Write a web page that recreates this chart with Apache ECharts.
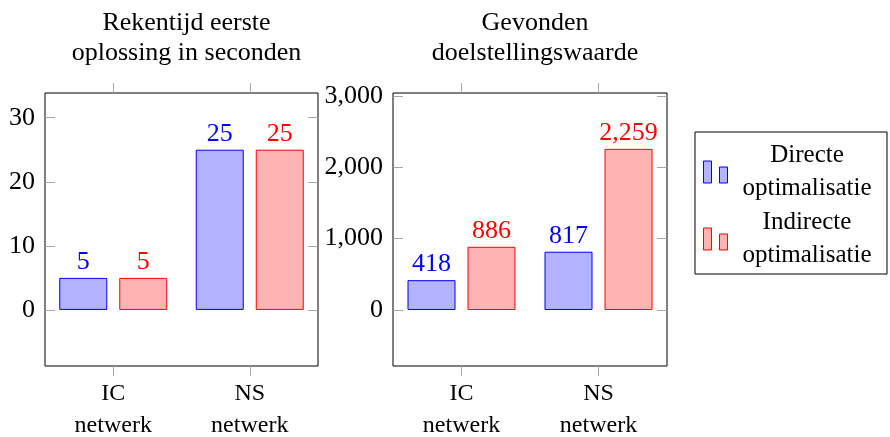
<!DOCTYPE html>
<html>
<head>
<meta charset="utf-8">
<title>Rekentijd en doelstellingswaarde</title>
<script src="https://cdn.jsdelivr.net/npm/echarts@6/dist/echarts.min.js"></script>
<style>
  html, body { margin: 0; padding: 0; background: #fff; }
  #chart { width: 890px; height: 437px; }
</style>
</head>
<body>
<div id="chart"></div>
<script>
// data
let categories = ["IC\nnetwerk", "NS\nnetwerk"];
let seriesNames = ["Directe optimalisatie", "Indirecte optimalisatie"];
let timeDirect = [5, 25];
let timeIndirect = [5, 25];
let objDirect = [418, 817];
let objIndirect = [886, 2259];
let timeTicks = [0, 10, 20, 30];
let objTicks = [0, 1000, 2000, 3000];

let font = "Liberation Serif";
let tickGray = "#a6a6a6";
let blue = "#0000ff", blueFill = "#b3b3ff";
let red = "#ff0000", redFill = "#ffb3b3";

let fmt = function (v) {
  return Number(v).toLocaleString("en-US");
};

let myChart = echarts.init(document.getElementById("chart"));

// x axes: bottom with labels, top only ticks (ticks outside the box)
function xAxes(gridIndex) {
  return [
    {
      type: "category", gridIndex: gridIndex, data: categories, position: "bottom",
      axisLine: { show: false, onZero: false },
      axisTick: { show: true, alignWithLabel: true, length: 10, lineStyle: { color: tickGray } },
      axisLabel: { color: "#000", fontFamily: font, fontSize: 24, lineHeight: 32, margin: 12 }
    },
    {
      type: "category", gridIndex: gridIndex, data: categories, position: "top",
      axisLine: { show: false, onZero: false },
      axisTick: { show: true, alignWithLabel: true, length: 10, lineStyle: { color: tickGray } },
      axisLabel: { show: false }
    }
  ];
}

// y axes: left with labels, right only ticks (both inside)
function yAxes(gridIndex, min, max, ticks) {
  return [
    {
      type: "value", gridIndex: gridIndex, position: "left", min: min, max: max,
      splitLine: { show: false },
      axisLine: { show: false, onZero: false },
      axisTick: { show: true, inside: true, length: 10, customValues: ticks, lineStyle: { color: tickGray } },
      axisLabel: { customValues: ticks, formatter: fmt, color: "#000", fontFamily: font, fontSize: 26, margin: 10 }
    },
    {
      type: "value", gridIndex: gridIndex, position: "right", min: min, max: max,
      splitLine: { show: false },
      axisLine: { show: false, onZero: false },
      axisTick: { show: true, inside: true, length: 10, customValues: ticks, lineStyle: { color: tickGray } },
      axisLabel: { show: false }
    }
  ];
}

function barSeries(name, data, xi, yi, color, fill) {
  return {
    name: name, type: "bar", data: data,
    xAxisIndex: xi, yAxisIndex: yi,
    barWidth: 48, barGap: "25%",
    itemStyle: { color: fill, borderColor: color, borderWidth: 1 },
    label: {
      show: true, position: "top", distance: 3, formatter: function (p) { return fmt(p.value); },
      color: color, fontFamily: font, fontSize: 26
    }
  };
}

let titleStyle = { color: "#000", fontFamily: font, fontSize: 26, fontWeight: "normal", lineHeight: 30 };

let opts = {
  animation: false,
  backgroundColor: "#fff",
  title: [
    { text: "Rekentijd eerste\noplossing in seconden", left: 181.5, top: 3, textAlign: "center", textStyle: titleStyle },
    { text: "Gevonden\ndoelstellingswaarde", left: 530, top: 3, textAlign: "center", textStyle: titleStyle }
  ],
  grid: [
    { left: 45, top: 93, width: 273, height: 273, outerBoundsMode: "none", show: true, borderColor: "#000", borderWidth: 1 },
    { left: 393, top: 93, width: 274, height: 273, outerBoundsMode: "none", show: true, borderColor: "#000", borderWidth: 1 }
  ],
  xAxis: xAxes(0).concat(xAxes(1)),
  yAxis: yAxes(0, -8.75, 33.85, timeTicks).concat(yAxes(1, -785, 3042, objTicks)),
  legend: {
    data: seriesNames,
    orient: "vertical",
    left: 695, top: 132,
    padding: [11, 6, 6, 8],
    itemGap: 9,
    itemWidth: 25, itemHeight: 22,
    borderColor: "#000", borderWidth: 1,
    icon: "path://M0,0h8v22h-8zM16,6h8v16h-8z",
    itemStyle: { borderWidth: 1 },
    formatter: function (name) {
      let parts = name.split(" ");
      return "{a|" + parts[0] + "}\n{a|" + parts[1] + "}";
    },
    textStyle: {
      color: "#000", fontFamily: font, fontSize: 25,
      rich: { a: { width: 148, align: "center", lineHeight: 33, fontFamily: font, fontSize: 25 } }
    }
  },
  series: [
    barSeries(seriesNames[0], timeDirect, 0, 0, blue, blueFill),
    barSeries(seriesNames[1], timeIndirect, 0, 0, red, redFill),
    barSeries(seriesNames[0], objDirect, 2, 2, blue, blueFill),
    barSeries(seriesNames[1], objIndirect, 2, 2, red, redFill)
  ]
};

myChart.setOption(opts);
</script>
</body>
</html>
